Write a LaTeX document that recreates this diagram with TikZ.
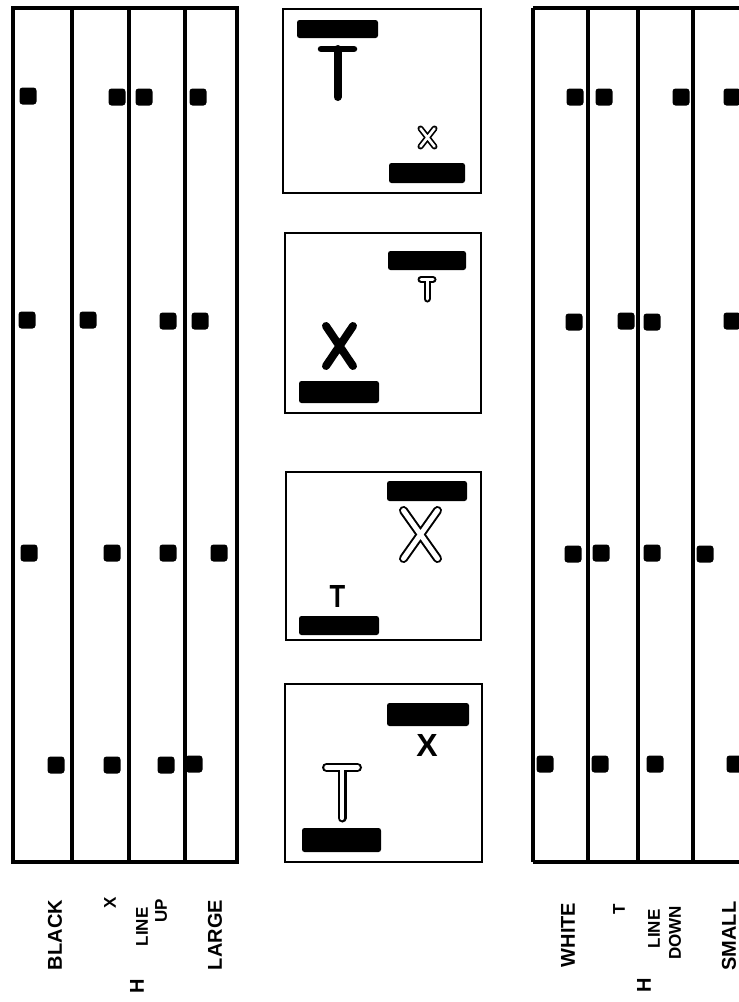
\documentclass[tikz,border=0pt]{standalone}
\usepackage{fontspec}
\setmainfont{Liberation Sans}
\begin{document}
\begin{tikzpicture}[x=1pt,y=-1pt,
  panel/.style={line width=3.2pt},
  sq/.style={fill=black,minimum size=17pt,inner sep=0pt,rounded corners=3pt},
  bar/.style={fill=black,inner sep=0pt,rounded corners=2.5pt,minimum width=79pt,minimum height=20pt},
  frame/.style={line width=2.5pt},
  solid stroke/.style={line cap=round,line width=#1},
  outer stroke/.style={line cap=round,line width=#1},
  inner stroke/.style={line cap=round,line width=#1,white},
  lab/.style={font=\bfseries\fontsize{20}{22}\selectfont,rotate=90,inner sep=0pt},
  labs/.style={font=\bfseries\fontsize{17}{19}\selectfont,rotate=90,inner sep=0pt}]
\useasboundingbox (0,0) rectangle (739,1002);
% ---------- left panel ----------
\draw[panel] (13,8) rectangle (237,862);
\foreach \x in {72,129,185} \draw[panel] (\x,8) -- (\x,862);
\node[sq] (l11) at (28,96) {};
\node[sq] (l12) at (117,97) {};
\node[sq] (l13) at (144,97) {};
\node[sq] (l14) at (198,97) {};
\node[sq] (l21) at (27,320) {};
\node[sq] (l22) at (88,320) {};
\node[sq] (l23) at (168,321) {};
\node[sq] (l24) at (200,321) {};
\node[sq] (l31) at (29,553) {};
\node[sq] (l32) at (112,553) {};
\node[sq] (l33) at (168,553) {};
\node[sq] (l34) at (219,553) {};
\node[sq] (l41) at (56,765) {};
\node[sq] (l42) at (112,765) {};
\node[sq] (l43) at (166,765) {};
\node[sq] (l44) at (194,764) {};
% ---------- right panel ----------
\draw[panel] (533,8) -- (750,8);
\draw[panel] (533,862) -- (750,862);
\foreach \x in {533,588,638,693} \draw[panel] (\x,8) -- (\x,862);
\node[sq] (r11) at (575,97) {};
\node[sq] (r12) at (604,97) {};
\node[sq] (r13) at (681,97) {};
\node[sq] (r14) at (732,97) {};
\node[sq] (r21) at (574,322) {};
\node[sq] (r22) at (626,321) {};
\node[sq] (r23) at (652,322) {};
\node[sq] (r24) at (732,321) {};
\node[sq] (r31) at (573,554) {};
\node[sq] (r32) at (601,553) {};
\node[sq] (r33) at (652,553) {};
\node[sq] (r34) at (705,554) {};
\node[sq] (r41) at (545,764) {};
\node[sq] (r42) at (600,764) {};
\node[sq] (r43) at (655,764) {};
\node[sq] (r44) at (735,764) {};
% ---------- middle boxes ----------
% box 1
\draw[frame] (283,9) rectangle (481,193);
\node[bar,minimum width=81pt,minimum height=18pt] (b1t) at (337.5,29) {};
\node[bar,minimum width=76pt,minimum height=20pt] (b1b) at (427,173) {};
\draw[solid stroke=6.5pt] (321,49) -- (354,49);
\draw[solid stroke=8pt] (337.5,49) -- (337.5,97);
\draw[outer stroke=6pt] (420.5,128.5) -- (434.5,146.5) (434.5,128.5) -- (420.5,146.5);
\draw[inner stroke=2.6pt] (420.5,128.5) -- (434.5,146.5) (434.5,128.5) -- (420.5,146.5);
% box 2
\draw[frame] (285,233) rectangle (481,413);
\node[bar,minimum width=78pt,minimum height=19pt] (b2t) at (427,260.5) {};
\node[bar,minimum width=80pt,minimum height=22pt] (b2b) at (339,392) {};
\draw[outer stroke=7pt] (421,279.5) -- (433,279.5) (427,279.5) -- (427,299);
\draw[inner stroke=3pt] (421,279.5) -- (433,279.5) (427,279.5) -- (427,299);
\draw[solid stroke=8pt] (326,326) -- (353,366) (353,326) -- (326,366);
% box 3
\draw[frame] (286,472) rectangle (481,640);
\node[bar,minimum width=80pt,minimum height=20pt] (b3t) at (427,491) {};
\node[bar,minimum width=80pt,minimum height=19pt] (b3b) at (339,625.5) {};
\draw[outer stroke=9pt] (403.5,510.5) -- (437.5,558.5) (437.5,510.5) -- (403.5,558.5);
\draw[inner stroke=5pt] (403.5,510.5) -- (437.5,558.5) (437.5,510.5) -- (403.5,558.5);
\node[font=\bfseries\fontsize{32}{34}\selectfont,inner sep=0pt,xscale=0.8,anchor=base] (t3) at (337.5,607) {T};
% box 4
\draw[frame] (285,684) rectangle (482,862);
\node[bar,minimum width=82pt,minimum height=23pt] (b4t) at (428,714.5) {};
\node[bar,minimum width=79pt,minimum height=24pt] (b4b) at (341.5,840) {};
\node[font=\bfseries\fontsize{32}{34}\selectfont,inner sep=0pt,anchor=base] (x4) at (427,756) {X};
\draw[outer stroke=9pt] (326.5,767.5) -- (357.5,767.5) (342,767.5) -- (342,818);
\draw[inner stroke=4.5pt] (326.5,767.5) -- (357.5,767.5) (342,767.5) -- (342,818);
% ---------- labels ----------
\node[lab] (lblack) at (55,935) {BLACK};
\node[labs] (lx) at (110,903) {X};
\node[labs] (lline) at (142,927) {LINE};
\node[labs] (lup) at (161,911) {UP};
\node[lab] (llarge) at (215,935) {LARGE};
\node[lab] (lh) at (137,986) {H};
\node[lab] (rwhite) at (568,935) {WHITE};
\node[labs] (rt) at (619,909) {T};
\node[labs] (rline) at (654,929) {LINE};
\node[labs] (rdown) at (675,933) {DOWN};
\node[lab] (rsmall) at (729,936) {SMALL};
\node[lab] (rh) at (644,985) {H};
\end{tikzpicture}
\end{document}
